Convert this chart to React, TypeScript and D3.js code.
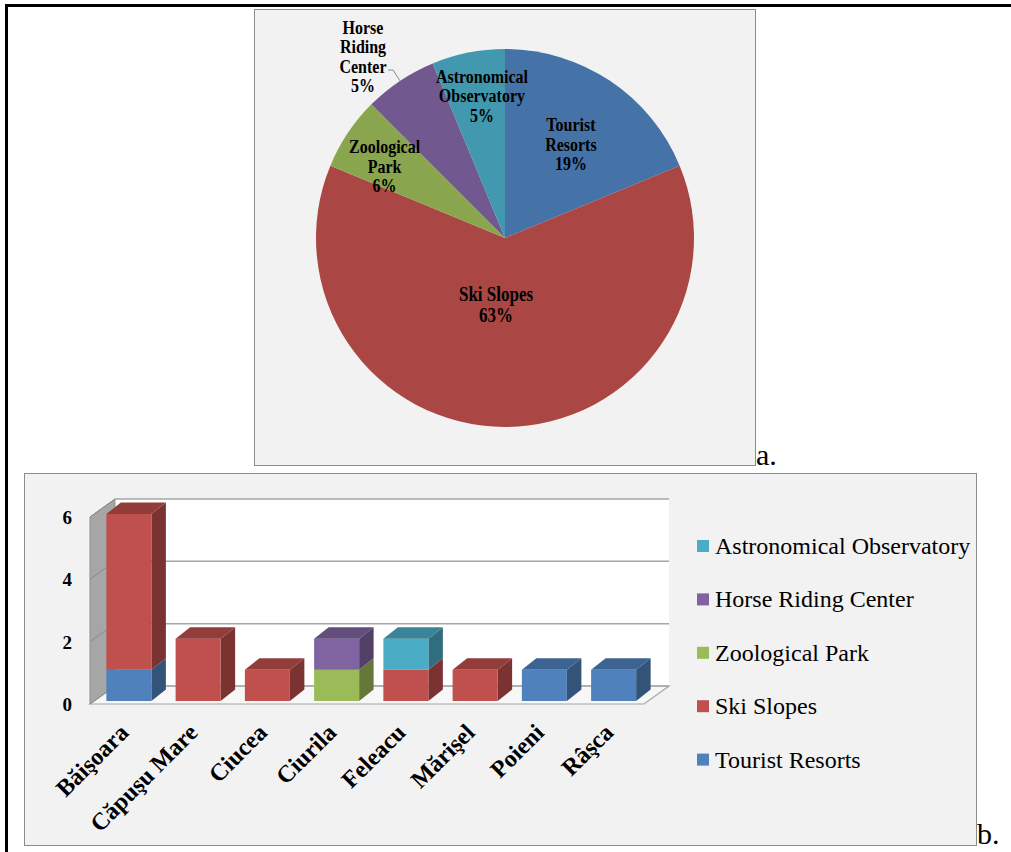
import React from "react";
import * as d3 from "d3";

// ---------- DATA ----------
const pieCategories = [
  "Tourist Resorts",
  "Ski Slopes",
  "Zoological Park",
  "Horse Riding Center",
  "Astronomical Observatory",
];
const pieCounts = [3, 10, 1, 1, 1];
const piePercentLabels = ["19%", "63%", "6%", "5%", "5%"];
const pieLabelLines = [
  ["Tourist", "Resorts"],
  ["Ski Slopes"],
  ["Zoological", "Park"],
  ["Horse", "Riding", "Center"],
  ["Astronomical", "Observatory"],
];

const localities = [
  "Băişoara",
  "Căpuşu Mare",
  "Ciucea",
  "Ciurila",
  "Feleacu",
  "Mărişel",
  "Poieni",
  "Râşca",
];
const touristResorts = [1, 0, 0, 0, 0, 0, 1, 1];
const skiSlopes = [5, 2, 1, 0, 1, 1, 0, 0];
const zoologicalPark = [0, 0, 0, 1, 0, 0, 0, 0];
const horseRidingCenter = [0, 0, 0, 1, 0, 0, 0, 0];
const astronomicalObservatory = [0, 0, 0, 0, 1, 0, 0, 0];
const yTicks = [0, 2, 4, 6];
const legendOrder = [
  "Astronomical Observatory",
  "Horse Riding Center",
  "Zoological Park",
  "Ski Slopes",
  "Tourist Resorts",
];

// ---------- STYLE ----------
const SERIF = "Liberation Serif, DejaVu Serif, serif";
const pieColors: Record<string, string> = {
  "Tourist Resorts": "#4572a7",
  "Ski Slopes": "#aa4643",
  "Zoological Park": "#89a54e",
  "Horse Riding Center": "#71588f",
  "Astronomical Observatory": "#4198af",
};
const barColors: Record<string, string> = {
  "Tourist Resorts": "#4f81bd",
  "Ski Slopes": "#c0504d",
  "Zoological Park": "#9bbb59",
  "Horse Riding Center": "#8064a2",
  "Astronomical Observatory": "#4bacc6",
};

// pie label placement (layout only)
const pieLabelPlacement = [
  { r: 115, dx: 2, dy: 2 },
  { r: 67, dx: -9, dy: 0 },
  { r: 140, dx: -4, dy: 6 },
  { r: 0, dx: 0, dy: 0 },
  { r: 144, dx: 5, dy: -1 },
];

function PieChart() {
  const cx = 505;
  const cy = 238;
  const R = 189;
  const pie = d3
    .pie<number>()
    .sort(null)
    .value((d) => d);
  const arcs = pie(pieCounts);
  const arc = d3.arc<d3.PieArcDatum<number>>().innerRadius(0).outerRadius(R);
  const lh = 19.5;
  return (
    <g>
      <g transform={`translate(${cx},${cy})`}>
        {arcs.map((a, i) => (
          <path key={i} d={arc(a) || ""} fill={pieColors[pieCategories[i]]} />
        ))}
      </g>
      {arcs.map((a, i) => {
        const lines = [...pieLabelLines[i], piePercentLabels[i]];
        let lx: number;
        let ly: number;
        let leader: string | null = null;
        const lineH = i === 1 ? 21 : lh;
        if (pieLabelPlacement[i].r > 0) {
          const p = d3
            .arc<d3.PieArcDatum<number>>()
            .innerRadius(pieLabelPlacement[i].r)
            .outerRadius(pieLabelPlacement[i].r)
            .centroid(a);
          lx = cx + p[0] + pieLabelPlacement[i].dx;
          ly = cy + p[1] + pieLabelPlacement[i].dy;
        } else {
          lx = 363;
          ly = 56.5;
          const e = d3
            .arc<d3.PieArcDatum<number>>()
            .innerRadius(R)
            .outerRadius(R)
            .centroid(a);
          leader = `M388,70 L393,70 L${cx + e[0]},${cy + e[1]}`;
        }
        const first = ly - ((lines.length - 1) * lineH) / 2;
        return (
          <g key={"l" + i}>
            {leader && <path d={leader} fill="none" stroke="#8c8c8c" strokeWidth={1} />}
            {lines.map((t, j) => (
              <text
                key={j}
                transform={`translate(${lx},${first + j * lineH + 6.3}) scale(1,1.18)`}
                style={{ fontFamily: SERIF }}
                fontWeight="bold"
                fontSize={i === 1 ? 17 : 16}
                textAnchor="middle"
                fill="#000"
              >
                {t}
              </text>
            ))}
          </g>
        );
      })}
    </g>
  );
}

function BarChart() {
  const seriesMap: Record<string, number[]> = {
    "Tourist Resorts": touristResorts,
    "Ski Slopes": skiSlopes,
    "Zoological Park": zoologicalPark,
    "Horse Riding Center": horseRidingCenter,
    "Astronomical Observatory": astronomicalObservatory,
  };
  const stackKeys = [
    "Tourist Resorts",
    "Ski Slopes",
    "Zoological Park",
    "Horse Riding Center",
    "Astronomical Observatory",
  ];
  const rows = localities.map((loc, i) => {
    const r: Record<string, any> = { loc };
    stackKeys.forEach((k) => (r[k] = seriesMap[k][i]));
    return r;
  });
  const stacked = d3.stack<Record<string, any>>().keys(stackKeys)(rows);

  const floorX0 = 90;
  const floorX1 = 644;
  const floorY = 704;
  const D = [25, -18];
  const shift = [4.25, -3];
  const bd = [14.5, -11.5];

  const x = d3
    .scaleBand<string>()
    .domain(localities)
    .range([floorX0, floorX1])
    .paddingInner(0.35)
    .paddingOuter(0.175);
  const h = d3.scaleLinear().domain([0, 6]).range([0, 187]);

  const backY0 = floorY + D[1];
  const backX0 = floorX0 + D[0];
  const backX1 = floorX1 + D[0];
  const frontBarY = (v: number) => floorY + shift[1] - h(v);
  const w = x.bandwidth();

  const topVal = localities.map((_, i) =>
    d3.max(stacked, (s) => (s[i][1] - s[i][0] > 0 ? s[i][1] : 0)) || 0
  );

  return (
    <g>
      <rect x={backX0} y={backY0 - h(6)} width={backX1 - backX0} height={h(6)} fill="#ffffff" />
      <path
        d={`M${floorX0},${floorY} L${floorX0},${floorY - h(6)} L${backX0},${backY0 - h(6)} L${backX0},${backY0} Z`}
        fill="#a6a6a6"
        stroke="#8f8f8f"
        strokeWidth={1}
      />
      <path
        d={`M${floorX0},${floorY} L${floorX1},${floorY} L${backX1},${backY0} L${backX0},${backY0} Z`}
        fill="#f7f7f7"
        stroke="#a6a6a6"
        strokeWidth={1.2}
      />
      {yTicks.map((t) => (
        <g key={t}>
          <line
            x1={backX0}
            x2={backX1}
            y1={backY0 - h(t)}
            y2={backY0 - h(t)}
            stroke="#a6a6a6"
            strokeWidth={1.5}
          />
          <line
            x1={floorX0}
            y1={floorY - h(t)}
            x2={backX0}
            y2={backY0 - h(t)}
            stroke="#8a8a8a"
            strokeWidth={1}
          />
          <text
            x={72}
            y={floorY - h(t) + 7}
            textAnchor="end"
            style={{ fontFamily: SERIF }}
            fontWeight="bold"
            fontSize={19}
          >
            {t}
          </text>
        </g>
      ))}
      {localities.map((loc, i) => {
        const xb = (x(loc) || 0) + shift[0];
        return (
          <g key={loc}>
            {stacked.map((s) => {
              const v0 = s[i][0];
              const v1 = s[i][1];
              if (v1 - v0 <= 0) return null;
              const c = barColors[s.key];
              const side = d3.color(c)!.darker(1.25).formatHex();
              const top = d3.color(c)!.darker(0.75).formatHex();
              const yt = frontBarY(v1);
              const yb = frontBarY(v0);
              return (
                <g key={s.key}>
                  <path
                    d={`M${xb + w},${yt} L${xb + w + bd[0]},${yt + bd[1]} L${xb + w + bd[0]},${yb + bd[1]} L${xb + w},${yb} Z`}
                    fill={side}
                  />
                  <rect x={xb} y={yt} width={w} height={yb - yt} fill={c} />
                  {v1 === topVal[i] && (
                    <path
                      d={`M${xb},${yt} L${xb + bd[0]},${yt + bd[1]} L${xb + w + bd[0]},${yt + bd[1]} L${xb + w},${yt} Z`}
                      fill={top}
                    />
                  )}
                </g>
              );
            })}
          </g>
        );
      })}
      {localities.map((loc) => {
        const cxl = (x(loc) || 0) + shift[0] + w / 2 + 1;
        const cyl = 734;
        return (
          <text
            key={loc}
            transform={`translate(${cxl},${cyl}) rotate(-45)`}
            textAnchor="end"
            style={{ fontFamily: SERIF }}
            fontWeight="bold"
            fontSize={24}
          >
            {loc}
          </text>
        );
      })}
      {legendOrder.map((k, i) => {
        const cyL = 546 + i * 53.4;
        return (
          <g key={k}>
            <rect x={697} y={cyL - 6} width={12} height={12} fill={barColors[k]} />
            <text x={715} y={cyL + 8} style={{ fontFamily: SERIF }} fontSize={24} fill="#000">
              {k}
            </text>
          </g>
        );
      })}
    </g>
  );
}

export default function App() {
  return (
    <>
      <style>{`body{margin:0;}`}</style>
      <svg width={1011} height={852} style={{ display: "block" }}>
        <rect x={0} y={0} width={1011} height={852} fill="#ffffff" />
        <rect x={5} y={4} width={1006} height={3} fill="#000" />
        <rect x={5} y={4} width={3} height={848} fill="#000" />

        <rect x={254.5} y={9.5} width={501} height={456} fill="#f2f2f2" stroke="#8c8c8c" strokeWidth={1} />
        <PieChart />
        <text x={756} y={465} style={{ fontFamily: SERIF }} fontSize={30} fill="#000">
          a.
        </text>

        <rect x={24.5} y={473.5} width={952} height={372} fill="#f2f2f2" stroke="#8c8c8c" strokeWidth={1} />
        <BarChart />
        <text x={977} y={844} style={{ fontFamily: SERIF }} fontSize={30} fill="#000">
          b.
        </text>
      </svg>
    </>
  );
}
